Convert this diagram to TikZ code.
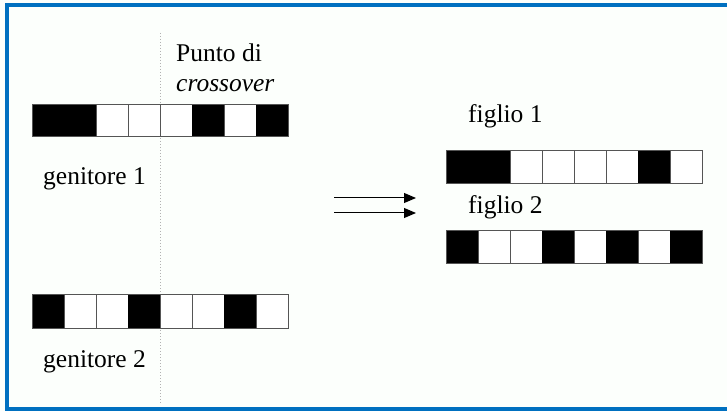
\documentclass[tikz,border=0pt]{standalone}
\usepackage{fontspec}
\setmainfont{Liberation Serif}
\newfontfamily\timesfont{Liberation Serif}
\usetikzlibrary{arrows.meta}
\definecolor{frameblue}{HTML}{0070C0}
\definecolor{cellline}{HTML}{555555}
\tikzset{
  gene/.style={draw=cellline, line width=0.9pt, minimum width=32pt, minimum height=#1, inner sep=0pt, outer sep=0pt, fill=white},
  gene/.default=33pt,
  lbl/.style={anchor=base west, inner sep=0pt, font=\timesfont\fontsize{25.5}{30}\selectfont},
  xarrow/.style={line width=1pt, -{Triangle[length=12pt,width=10pt]}}
}
\newcommand\chromo[5]{%
  \foreach \c [count=\i from 0] in {#5} {
    \ifnum\c=1
      \node[gene=#4, fill=black, draw=black] (#1-\i) at ({#2+16+32*\i},{#3+#4/2}) {};
    \else
      \node[gene=#4] (#1-\i) at ({#2+16+32*\i},{#3+#4/2}) {};
    \fi
  }%
  \draw[cellline, line width=0.9pt] (#1-0.north west) rectangle (#1-7.south east);
}
\begin{document}
\begin{tikzpicture}[x=1pt,y=-1pt]
  \useasboundingbox (0,0) rectangle (727,411);
  \fill[white!98!green!60!white] (0,0) rectangle (727,411);
  % frame
  \fill[frameblue] (5,3) rectangle (727,7);
  \fill[frameblue] (5,3) rectangle (9,411);
  \fill[frameblue] (5,407) rectangle (727,411);
  % crossover line
  \coordinate (cxtop) at (160,33);
  \coordinate (cxbot) at (160,403);
  \draw[gray!60, dotted, line width=1pt] (cxtop) -- (cxbot);
  % chromosomes
  \chromo{pA}{32}{104}{32}{1,1,0,0,0,1,0,1}
  \chromo{pB}{32}{294}{34}{1,0,0,1,0,0,1,0}
  \chromo{cA}{446}{150}{33}{1,1,0,0,0,0,1,0}
  \chromo{cB}{446}{230}{33}{1,0,0,1,0,1,0,1}
  % labels
  \node[lbl] (punto) at (176,62) {Punto di};
  \node[lbl] (cross) at (176,92) {\itshape crossover};
  \node[lbl] (gen1) at (43,185) {genitore 1};
  \node[lbl] (gen2) at (43,367) {genitore 2};
  \node[lbl] (fig1) at (468,123) {figlio 1};
  \node[lbl] (fig2) at (468,214) {figlio 2};
  % arrows
  \coordinate (a1s) at (334,198);
  \coordinate (a1e) at (416,198);
  \coordinate (a2s) at (334,213);
  \coordinate (a2e) at (416,213);
  \draw[xarrow] (a1s) -- (a1e);
  \draw[xarrow] (a2s) -- (a2e);
\end{tikzpicture}
\end{document}
